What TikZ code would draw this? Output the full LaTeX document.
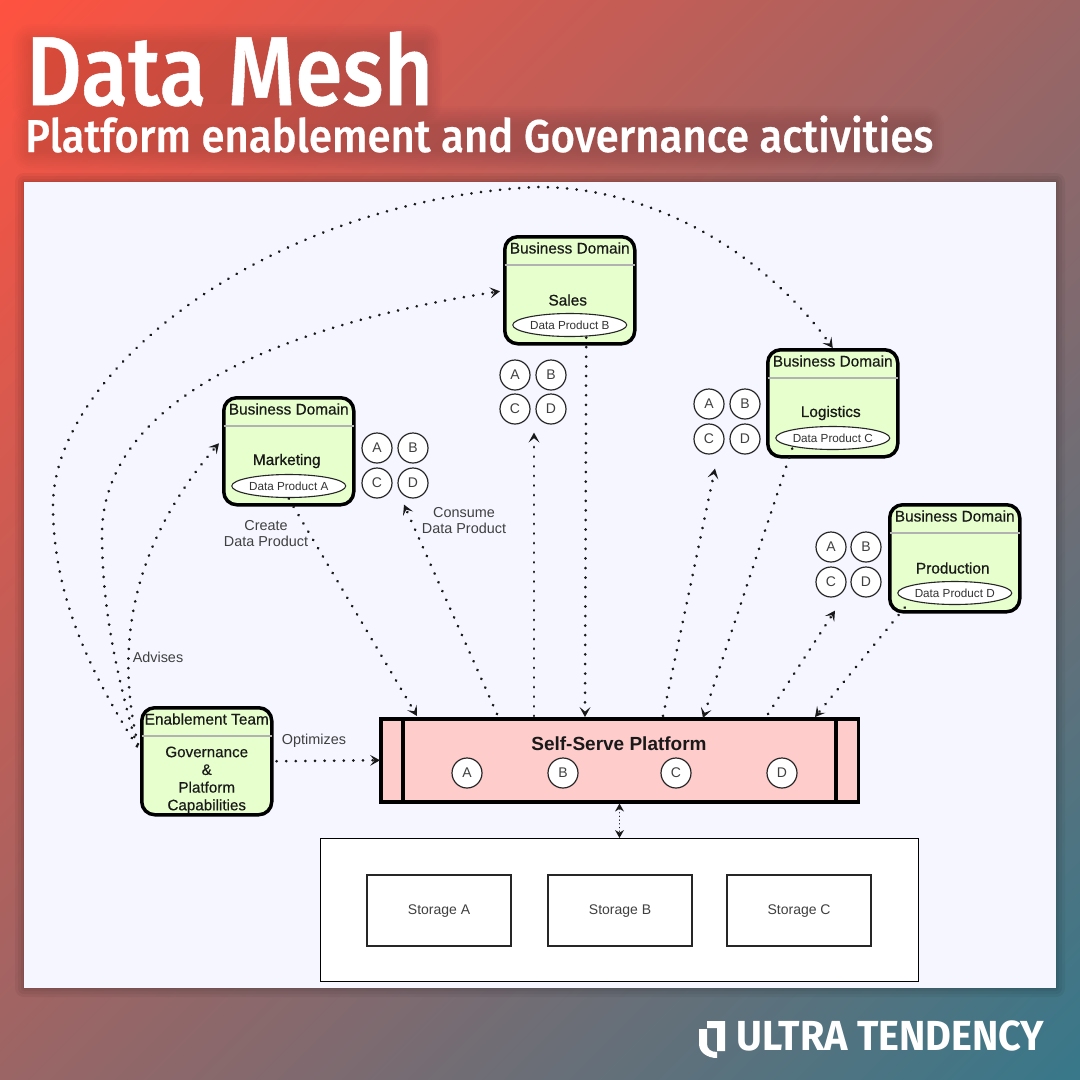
\documentclass[tikz,border=0pt]{standalone}
\usepackage{graphicx}
\usepackage{fontspec}
\setmainfont{Liberation Sans}
\newfontfamily\semifont[FakeBold=0.35]{Liberation Sans}
\newfontfamily\boldishfont[FakeBold=0.7]{Liberation Sans}
\newfontfamily\titlefont[FakeBold=0.5]{Fira Sans Medium}
\newfontfamily\brandfont{Fira Sans}
\usetikzlibrary{arrows.meta,calc,shapes.geometric}
\definecolor{bgA}{HTML}{FF5240}
\definecolor{bgB}{HTML}{37788A}
\definecolor{panelc}{HTML}{F5F6FF}
\definecolor{greenc}{HTML}{E6FFCC}
\definecolor{pinkc}{HTML}{FFCCCC}
\definecolor{labelc}{HTML}{404040}
\tikzset{
  x=1pt,y=-1pt,
  bizbox/.style={draw=black,line width=3.5pt,fill=greenc,rounded corners=13pt,minimum width=130pt,minimum height=107pt,inner sep=0pt},
  hdr/.style={draw=black!30,line width=1.2pt},
  dtxt/.style={font=\semifont\fontsize{15.4}{17.7}\selectfont,text=black!90,inner sep=0pt,align=center},
  ttxt/.style={font=\boldishfont\fontsize{15.4}{17.7}\selectfont,text=black!90,inner sep=0pt,align=center},
  ptxt/.style={font=\fontsize{11.7}{13}\selectfont,text=black!80,draw=black!85,fill=white,line width=1.1pt,ellipse,inner sep=0pt,minimum width=114pt,minimum height=23pt},
  lbl/.style={font=\fontsize{14.4}{16.5}\selectfont,text=labelc,inner sep=0pt,align=center},
  cir/.style={circle,draw=black!85,fill=white,line width=1.2pt,minimum size=30pt,inner sep=0pt,font=\fontsize{14}{16}\selectfont,text=black!75},
  link/.style={line width=2.8pt,line cap=round,dash pattern=on 0.2pt off 9.4pt,black!90,-{Stealth[length=10pt,width=11pt,inset=4.5pt,line width=0pt]}},
  linkb/.style={line width=1.3pt,line cap=round,dash pattern=on 0.2pt off 3.5pt,black!90,{Stealth[length=8pt,width=9pt,line width=0pt]}-{Stealth[length=8pt,width=9pt,line width=0pt]}},
  stor/.style={draw=black!85,line width=2.2pt,fill=white,minimum width=144pt,minimum height=71pt,inner sep=0pt,font=\fontsize{14}{16}\selectfont,text=black!75},
}
\begin{document}
\begin{tikzpicture}
\useasboundingbox (0,0) rectangle (1080,1080);
\begin{scope}
\clip (0,0) rectangle (1080,1080);
\begin{scope}[transform canvas={rotate around={-45:(540,540)}}]
\shade[left color=bgA,right color=bgB] (-224,-224) rectangle (1304,1304);
\end{scope}
\end{scope}
% soft shadows
\foreach \r in {9,6,3,1}{
  \fill[black,opacity=0.05,rounded corners=\r pt] ({24-\r},{182-\r}) rectangle ({1056+\r},{988+\r});
}
\foreach \r in {18,16,14,12,10,8,6,4,2,0}{
  \fill[black,opacity=0.012,rounded corners={(\r+1)*1pt}] ({30-\r},{42-\r}) rectangle ({424+\r},{104+\r});
  \fill[black,opacity=0.012,rounded corners={(\r+1)*1pt}] ({30-\r},{124-\r}) rectangle ({926+\r},{152+\r});
}
\node[fill=panelc,anchor=north west,minimum width=1032pt,minimum height=806pt,inner sep=0pt] (panel) at (24,182) {};
% titles
\node[anchor=base west,inner sep=0pt,text=white,font=\titlefont\fontsize{98}{98}\selectfont] (title) at (26,105) {\scalebox{0.878}[1]{Data Mesh}};
\node[anchor=base west,inner sep=0pt,text=white,font=\titlefont\fontsize{46}{46}\selectfont] (subtitle) at (25,152) {\scalebox{0.911}[1]{Platform enablement and Governance activities}};
% logo
\fill[white] (707,1021) -- (725,1021) -- (725,1051) -- (717,1051) -- (717,1028) -- (707,1028) -- cycle;
\fill[white] (699,1029) -- (707,1029) -- (707,1044) .. controls (707,1049) and (711,1052) .. (717,1052) -- (717,1058) .. controls (707,1058) and (699,1052) .. (699,1044) -- cycle;
\node[anchor=base west,inner sep=0pt,text=white,font=\brandfont\bfseries\fontsize{42}{42}\selectfont] (brand) at (736,1050) {\scalebox{0.944}[1]{ULTRA TENDENCY}};
% domains
\newcommand{\bdomain}[6]{% name, x, y, header, title, product
  \node[bizbox,anchor=north west] (#1) at (#2,#3) {};
  \draw[hdr] ($(#1.north west)+(1.5,30)$) -- ($(#1.north east)+(-1.5,30)$);
  \node[dtxt] (#1h) at ($(#1.north)+(0,13)$) {#4};
  \node[ttxt] (#1t) at ($(#1.north)+(-2,65)$) {#5};
  \node[ptxt] (#1p) at ($(#1.north)+(0,90)$) {#6};
}
\bdomain{mkt}{222}{396}{Business Domain}{Marketing}{Data Product A}
\bdomain{sal}{503}{235}{Business Domain}{Sales}{Data Product B}
\bdomain{log}{766}{348}{Business Domain}{Logistics}{Data Product C}
\bdomain{pro}{888}{503}{Business Domain}{Production}{Data Product D}
% enablement
\node[bizbox,anchor=north west] (ena) at (140,706) {};
\draw[hdr] ($(ena.north west)+(1.5,30)$) -- ($(ena.north east)+(-1.5,30)$);
\node[dtxt] (enah) at ($(ena.north)+(0,13)$) {Enablement Team};
\node[dtxt,font=\semifont\fontsize{15.2}{17.7}\selectfont] (enat) at ($(ena.north)+(0,74)$) {Governance\\\&\\Platform\\Capabilities};
% platform
\node[draw=black,line width=3.5pt,fill=pinkc,anchor=north west,minimum width=477.5pt,minimum height=83pt,inner sep=0pt] (plat) at (379,717) {};
\draw[black,line width=3.5pt] ($(plat.north west)+(24,1)$) -- ($(plat.south west)+(24,-1)$);
\draw[black,line width=3.5pt] ($(plat.north east)+(-24,1)$) -- ($(plat.south east)+(-24,-1)$);
\node[font=\bfseries\fontsize{19}{22}\selectfont,inner sep=0pt,text=black!90] (platt) at (619,744) {Self-Serve Platform};
% circles
\newcommand{\cgroup}[5]{%
  \node[cir] (#1a) at (#2,#3) {A};
  \node[cir] (#1b) at (#4,#3) {B};
  \node[cir] (#1c) at (#2,#5) {C};
  \node[cir] (#1d) at (#4,#5) {D};
}
\cgroup{m}{377}{448}{413}{483}
\cgroup{s}{515}{375}{551}{409}
\cgroup{l}{709}{404}{745}{439}
\cgroup{r}{831}{547}{866}{582}
\node[cir] (pa) at (467,773) {A};
\node[cir] (pb) at (563,773) {B};
\node[cir] (pc) at (676,773) {C};
\node[cir] (pd) at (782,773) {D};
% storage
\node[draw=black,line width=1pt,fill=white,anchor=north west,minimum width=598pt,minimum height=143pt,inner sep=0pt] (store) at (320,838) {};
\node[stor,anchor=north west] (sa) at (366,874) {Storage A};
\node[stor,anchor=north west] (sb) at (547,874) {Storage B};
\node[stor,anchor=north west] (sc) at (726,874) {Storage C};
% labels
\node[lbl] (l1) at (266,533.5) {Create\\Data Product};
\node[lbl] (l2) at (464,520.5) {Consume\\Data Product};
\node[lbl] (l3) at (158,657) {Advises};
\node[lbl] (l4) at (314,741) {Optimizes};
% connectors
\draw[link] ($(mkt.south)+(0,-8)$) -- ($(plat.north west)+(38,-1)$);
\draw[link] ($(plat.north west)+(118,-3)$) -- ($(md.south)+(-9,6)$);
\draw[link] ($(plat.north west)+(155,-1)$) -- ($(sd.south)+(-17,8)$);
\draw[link] ($(sal.south)+(16.5,-8)$) -- ($(plat.north west)+(206,0)$);
\draw[link] ($(plat.north west)+(284,-1)$) -- ($(ld.south)+(-30,14)$);
\draw[link] ($(log.south)+(-40.5,-10)$) -- ($(plat.north west)+(324,1)$);
\draw[link] ($(plat.north west)+(389,-3)$) -- ($(rd.south)+(-31,13)$);
\draw[link] ($(pro.south)+(-50,-6)$) -- ($(plat.north west)+(436,0)$);
\draw[link] ($(ena.east)+(3,0)$) -- ($(plat.west)+(1,0)$);
\draw[linkb] ($(plat.south)+(0,0)$) -- ($(store.north)+(0,0)$);
\draw[link] ($(ena.west)+(-2,-17)$) .. controls (120,670) and (118,560) .. ($(mkt.west)+(-3,-8)$);
\draw[link] ($(ena.west)+(-3,-15)$) .. controls (118,680) and (102,610) .. (102,535) .. controls (102,400) and (280,325) .. ($(sal.west)+(-3,1)$);
\draw[link] ($(ena.west)+(-3,-15)$) .. controls (95,680) and (53,600) .. (53,506) .. controls (53,370) and (270,200) .. (537,187) .. controls (660,187) and (770,260) .. ($(log.north)+(0,0)$);
\end{tikzpicture}
\end{document}
